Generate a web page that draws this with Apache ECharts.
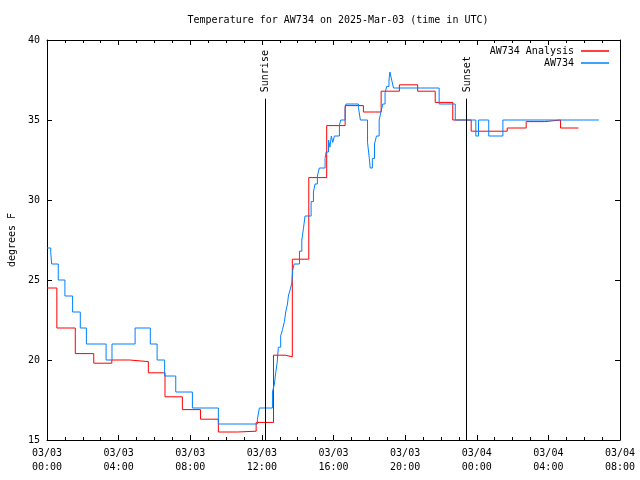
<!DOCTYPE html>
<html><head><meta charset="utf-8">
<script src="https://cdn.jsdelivr.net/npm/echarts@6/dist/echarts.min.js"></script>
<style>html,body{margin:0;padding:0;background:#fff}#c{width:640px;height:480px}</style>
</head><body><div id="c"></div>
<script>
const FONT = 'DejaVu Sans Mono';
const titleText = 'Temperature for AW734 on 2025-Mar-03 (time in UTC)';
const yAxisName = 'degrees F';
const seriesNames = ['AW734 Analysis', 'AW734'];
// hours since 2025-03-03 00:00 UTC
const xTickLabels = ['03/03\n00:00','03/03\n04:00','03/03\n08:00','03/03\n12:00','03/03\n16:00','03/03\n20:00','03/04\n00:00','03/04\n04:00','03/04\n08:00'];
const yTicks = [15, 20, 25, 30, 35, 40];

const analysisHours = [0,0.55,1.58,2.61,3.62,4.62,5.66,6.59,7.56,8.57,9.57,10.65,11.68,12.65,13.3,13.7,14.62,15.62,16.65,17.67,18.66,19.68,20.7,21.68,22.66,23.69,25.7,26.76,27.8,28.68,29.68];
const analysisTemps = [24.5,22.0,20.4,19.8,20.0,19.9,19.2,17.7,16.9,16.3,15.5,15.55,16.1,20.3,20.2,26.3,31.4,34.65,35.9,35.5,36.8,37.2,36.8,36.1,35.0,34.3,34.5,34.9,35.0,34.5,34.5];

const obsHours = [0,0.21,0.26,0.63,1.0,1.43,1.86,2.2,3.3,3.63,4.92,5.77,6.15,6.57,7.19,8.12,9.57,11.75,11.86,12.59,12.7,12.77,12.85,12.92,13.05,13.15,13.26,13.33,13.43,13.48,13.58,13.67,13.72,13.8,14.1,14.23,14.32,14.41,14.75,14.88,14.97,15.1,15.21,15.53,15.59,15.72,15.8,15.88,15.96,16.05,16.33,16.41,16.65,16.7,17.39,17.5,17.9,18.0,18.05,18.17,18.29,18.4,18.55,18.65,18.75,18.88,18.97,19.1,19.15,19.25,19.35,21.9,22.8,23.95,24.1,24.67,25.46,30.82];
const obsTemps = [27,26.7,26,25,24,23,22,21,20,21,22,21,20,19,18,17,16,16.3,17,18,18.5,19.2,19.8,20.8,21.5,21.9,22.4,23.0,23.5,24.0,24.4,24.8,25.6,26.0,26.8,27.5,28.2,29.0,29.9,30.5,31.0,31.5,32.0,32.6,33.0,33.75,33.3,34.0,33.6,34.0,34.7,35.0,35.7,36.0,35.8,35.0,33.6,32.6,32.0,32.6,33.5,34.0,35.0,35.5,36.0,36.7,37.1,37.5,38.0,37.5,37.0,36.0,35.0,34.0,35.0,34.0,35.0,35.0];

const eventNames = ['Sunrise', 'Sunset'];
const eventHours = [12.2, 23.44];
const eventLineTop = 36.33;

const zip = (a, b) => a.map((v, i) => [v, b[i]]);

const chart = echarts.init(document.getElementById('c'), null, {renderer: 'canvas'});
const txt = {fontFamily: FONT, fontSize: 10, color: '#000'};
const xCommon = {
  type: 'value', min: 0, max: 32, interval: 4,
  axisLine: {show: true, onZero: false, lineStyle: {color: '#000', width: 1}},
  axisTick: {show: true, inside: true, length: 5, lineStyle: {color: '#000'}},
  minorTick: {show: true, splitNumber: 4, length: 3, lineStyle: {color: '#000'}},
  splitLine: {show: false}, minorSplitLine: {show: false}
};
const yCommon = {
  type: 'value', min: 15, max: 40, interval: 5,
  axisLine: {show: true, onZero: false, lineStyle: {color: '#000', width: 1}},
  axisTick: {show: true, inside: true, length: 5, lineStyle: {color: '#000'}},
  splitLine: {show: false}
};

chart.setOption({
  animation: false,
  backgroundColor: '#fff',
  textStyle: {fontFamily: FONT},
  title: {text: titleText, left: 333, top: 10, textAlign: 'center',
    textStyle: {fontFamily: FONT, fontSize: 10, fontWeight: 'normal', color: '#000'}},
  grid: {left: 47, right: 20, top: 40, bottom: 40, containLabel: false, outerBoundsMode: 'none'},
  legend: [
    {data: [seriesNames[0]], right: 26, top: 41, align: 'right', icon: 'rect', itemWidth: 28, itemHeight: 1.5,
     textStyle: Object.assign({padding: [0, 2, 0, 0]}, txt), selectedMode: false},
    {data: [seriesNames[1]], right: 26, top: 53, align: 'right', icon: 'rect', itemWidth: 28, itemHeight: 1.5,
     textStyle: Object.assign({padding: [0, 2, 0, 0]}, txt), selectedMode: false}
  ],
  xAxis: [
    Object.assign({}, xCommon, {position: 'bottom',
      axisLabel: Object.assign({margin: 6, lineHeight: 14, showMaxLabel: true, showMinLabel: true,
        formatter: v => xTickLabels[Math.round(v / 4)]}, txt)}),
    Object.assign({}, xCommon, {position: 'top', axisLabel: {show: false}})
  ],
  yAxis: [
    Object.assign({}, yCommon, {position: 'left', name: yAxisName, nameLocation: 'middle', nameRotate: 90, nameGap: 30,
      nameTextStyle: txt,
      axisLabel: Object.assign({margin: 7, formatter: v => String(yTicks[yTicks.indexOf(v)])}, txt)}),
    Object.assign({}, yCommon, {position: 'right', axisLabel: {show: false}})
  ],
  series: [
    {name: seriesNames[0], type: 'line', step: 'end', data: zip(analysisHours, analysisTemps),
     showSymbol: false, symbol: 'none', color: '#ff0000', lineStyle: {width: 1, color: '#ff0000'}, z: 2},
    {name: seriesNames[1], type: 'line', step: 'end', data: zip(obsHours, obsTemps),
     showSymbol: false, symbol: 'none', color: '#0080ff', lineStyle: {width: 1, color: '#0080ff'}, z: 3,
     markLine: {silent: true, symbol: ['none', 'none'], label: {show: false},
       lineStyle: {color: '#000', width: 1, type: 'solid'},
       data: eventHours.map(h => [{coord: [h, 15]}, {coord: [h, eventLineTop]}])}}
  ]
});

const graphics = eventHours.map((h, i) => {
  const p = chart.convertToPixel({xAxisIndex: 0, yAxisIndex: 0}, [h, eventLineTop]);
  return {type: 'text', x: Math.round(p[0]) + 0.5, y: p[1] - 6.5, rotation: Math.PI / 2,
    style: {text: eventNames[i], fill: '#000', font: '10px "' + FONT + '"', align: 'left', verticalAlign: 'middle'}};
});
chart.setOption({graphic: graphics});
</script></body></html>
